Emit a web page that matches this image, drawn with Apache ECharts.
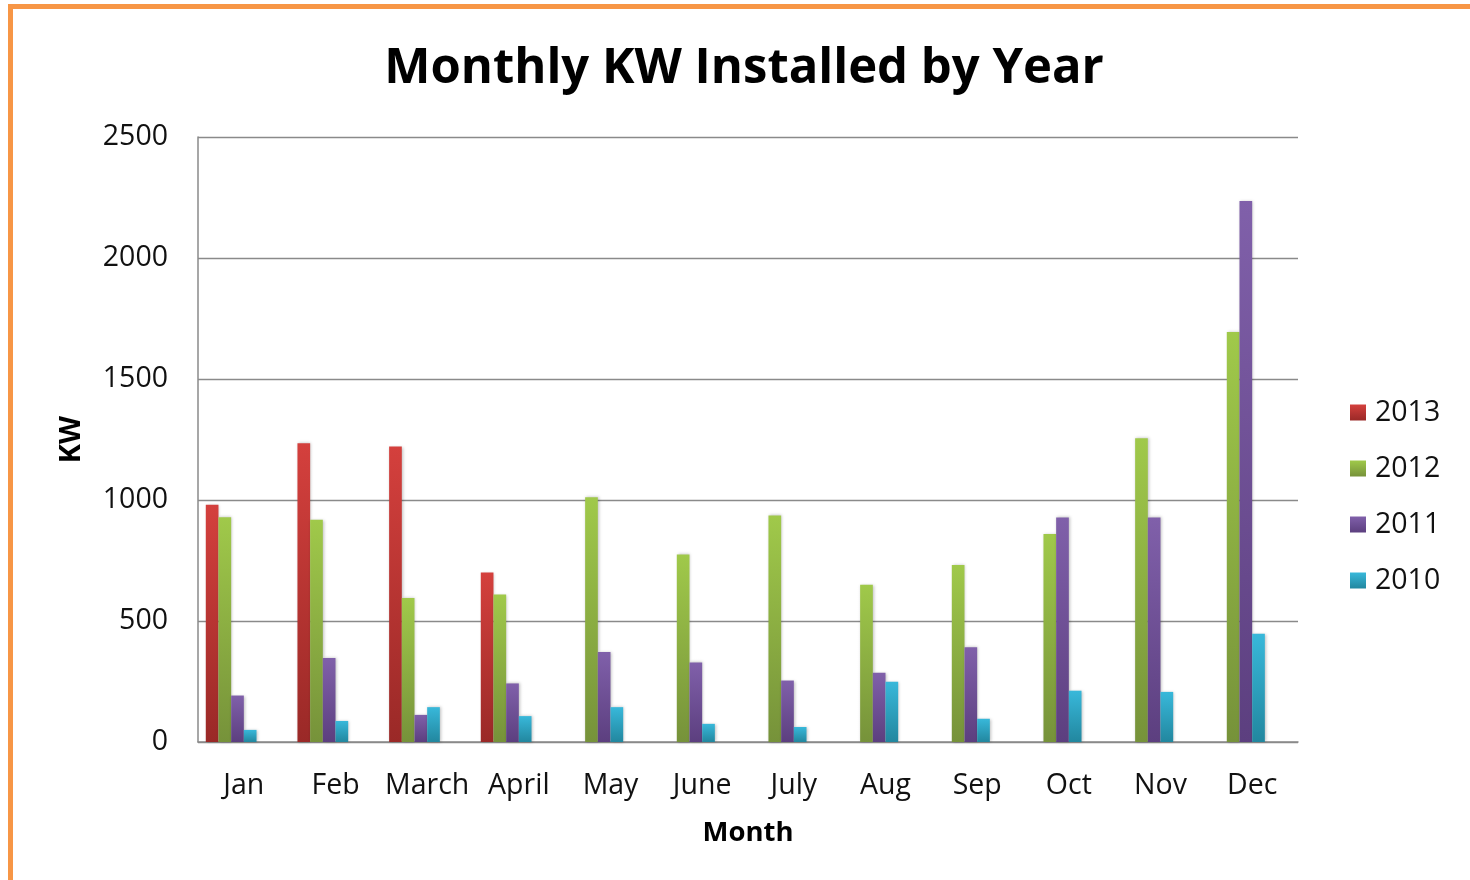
<!DOCTYPE html>
<html>
<head>
<meta charset="utf-8">
<script src="https://cdn.jsdelivr.net/npm/echarts@6/dist/echarts.min.js"></script>
<style>
html,body{margin:0;padding:0;background:#fff;}
#c{width:1470px;height:880px;}
</style>
</head>
<body>
<div id="c"></div>
<script>
const months = ['Jan','Feb','March','April','May','June','July','Aug','Sep','Oct','Nov','Dec'];
const years = ['2013','2012','2011','2010'];
const kw2013 = [980, 1234, 1221, 700, null, null, null, null, null, null, null, null];
const kw2012 = [929, 918, 595, 609, 1011, 775, 936, 650, 731, 860, 1255, 1694];
const kw2011 = [192, 347, 112, 242, 372, 329, 254, 286, 392, 928, 928, 2236];
const kw2010 = [50, 87, 144, 107, 144, 75, 62, 249, 96, 212, 207, 447];
const yTicks = {min: 0, max: 2500, interval: 500};

const colors = [
  ['#d4403d', '#9a2927'],
  ['#a0c94a', '#76923a'],
  ['#8060aa', '#5c3f7f'],
  ['#38b8da', '#22879f']
];
function grad(c){
  return new echarts.graphic.LinearGradient(0,0,0,1,[{offset:0,color:c[0]},{offset:1,color:c[1]}]);
}
const allData = [kw2013, kw2012, kw2011, kw2010];
const series = years.map((y,i)=>({
  name: y, type: 'bar', data: allData[i],
  barGap: '0%', barCategoryGap: '17%',
  itemStyle: {color: grad(colors[i]), shadowColor: 'rgba(0,0,0,0.25)', shadowBlur: 3, shadowOffsetX: 1, shadowOffsetY: 0},
  emphasis: {disabled: true}
}));
// two empty series that Excel reserved space for
series.push({name: 'empty1', type: 'bar', data: [], barGap: '0%', barCategoryGap: '17%'});
series.push({name: 'empty2', type: 'bar', data: [], barGap: '0%', barCategoryGap: '17%'});

const chart = echarts.init(document.getElementById('c'), null, {renderer: 'canvas'});
chart.setOption({
  animation: false,
  backgroundColor: '#fff',
  color: colors.map(c=>c[0]),
  title: {
    text: 'Monthly KW Installed by Year',
    left: 739, top: 40, textAlign: 'center',
    textStyle: {fontFamily: 'Open Sans', fontWeight: 'bold', fontSize: 49, color: '#000'}
  },
  legend: {
    data: years.map(y=>({name: y, itemStyle: {color: grad(colors[years.indexOf(y)])}})),
    orient: 'vertical', left: 1345, top: 393,
    itemWidth: 16, itemHeight: 16, itemGap: 27,
    icon: 'rect',
    textStyle: {fontFamily: 'Open Sans', fontSize: 28.5, color: '#111', padding: [0,0,0,4]},
    selectedMode: false
  },
  grid: {left: 198, right: 172, top: 137, bottom: 138, containLabel: false},
  xAxis: {
    type: 'category', data: months,
    name: 'Month', nameLocation: 'middle', nameGap: 77,
    nameTextStyle: {fontFamily: 'Open Sans', fontWeight: 'bold', fontSize: 27.5, color: '#000'},
    axisLine: {lineStyle: {color: '#8a8a8a', width: 1.5}},
    axisTick: {show: false},
    axisLabel: {fontFamily: 'Open Sans', fontSize: 28.5, color: '#111', margin: 29, interval: 0}
  },
  yAxis: {
    type: 'value', min: yTicks.min, max: yTicks.max, interval: yTicks.interval,
    name: 'KW', nameLocation: 'middle', nameGap: 112,
    nameTextStyle: {fontFamily: 'Open Sans', fontWeight: 'bold', fontSize: 29, color: '#000'},
    axisLine: {show: true, lineStyle: {color: '#8a8a8a', width: 1.5}},
    axisTick: {show: false},
    splitLine: {lineStyle: {color: '#8a8a8a', width: 1.3}},
    axisLabel: {fontFamily: 'Open Sans', fontSize: 28.5, color: '#111', margin: 30, formatter: v => String(v)}
  },
  graphic: [
    {type: 'rect', shape: {x: 8, y: 4, width: 1462, height: 5}, style: {fill: '#f79646'}, silent: true},
    {type: 'rect', shape: {x: 8, y: 4, width: 5, height: 876}, style: {fill: '#f79646'}, silent: true}
  ],
  series: series
});
</script>
</body>
</html>
